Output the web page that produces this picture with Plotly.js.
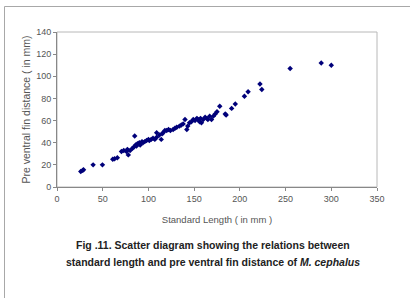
<!DOCTYPE html>
<html>
<head>
<meta charset="utf-8">
<script src="https://cdn.plot.ly/plotly-3.0.1.min.js"></script>
<style>
html,body{margin:0;padding:0;background:#fff;}
#chart{width:410px;height:298px;}
</style>
</head>
<body>
<div id="chart"></div>
<script>
// Standard length (mm)
var standardLength = [26,28,29,39.5,49.7,61,63,66,70.5,73,76,77,78,80,82.6,84,85,86,87,88,90,91,93,94,96,98,100,101,103,105,107,109,109,112,114,115,116,118,120,122,124,127,129,131,134,136,138,140,142,143,145,147,149,151,153,154,156,157,158,160,162,164,165,167,169,171,173,175,178,184,185,191,195,205,209,222,224,255,289,300];
// Pre ventral fin distance (mm)
var preVentral = [14,15,15.5,20,20,25,25.5,26.5,32,33,32,34,29,33,35,36,46,38,37,39,40,38,41,40,41,42,43,42,43,44,43,45,49,47,43,48,49,51,51,52,51,52,53,54,55,56,57,61,52,55,58,59,61,60,62,61,59,62,58,61,63,62,61,64,61,64,66,68,73,66,65,71,75,82,86,93,88,107,112,110];
var xTicks = [0,50,100,150,200,250,300,350];
var yTicks = [0,20,40,60,80,100,120,140];

var narrow = '"Liberation Sans Narrow", "Arial Narrow", "Liberation Sans", Arial, sans-serif';

var trace = {
  x: standardLength,
  y: preVentral,
  type: 'scatter',
  mode: 'markers',
  marker: {symbol: 'diamond', size: 4.2, color: '#00007a', line: {width: 0}},
  hoverinfo: 'none'
};

// frame geometry in paper units (plot area 57..377 x 32..187 px)
function px2x(p){return (p-57)/320;}
function px2y(p){return (187-p)/155;}

var layout = {
  width: 410, height: 298,
  margin: {l: 57, r: 33, t: 32, b: 111},
  paper_bgcolor: '#fff', plot_bgcolor: '#fff',
  showlegend: false,
  font: {family: narrow, size: 9, color: '#555'},
  xaxis: {
    range: [0, 350], tickvals: xTicks, ticktext: xTicks.map(String),
    showgrid: false, zeroline: false, showline: true, linecolor: '#888', linewidth: 1,
    ticks: 'outside', ticklen: 3, tickcolor: '#888',
    tickfont: {family: narrow, size: 9, color: '#555'},
    title: {text: 'Standard Length ( in mm )', font: {family: narrow, size: 9.5, color: '#555'}, standoff: 13}
  },
  yaxis: {
    range: [0, 140], tickvals: yTicks, ticktext: yTicks.map(String),
    showgrid: false, zeroline: false, showline: true, linecolor: '#888', linewidth: 1,
    ticks: 'outside', ticklen: 3, tickcolor: '#888',
    tickfont: {family: narrow, size: 9, color: '#555'},
    title: {text: 'Pre ventral fin distance ( in mm)', font: {family: narrow, size: 10.5, color: '#555'}, standoff: 3}
  },
  shapes: [
    {type: 'rect', xref: 'paper', yref: 'paper', x0: 0, x1: 1, y0: 0, y1: 1,
     line: {color: '#b8b8b8', width: 1}, layer: 'below'},
    {type: 'line', xref: 'paper', yref: 'paper', x0: px2x(4.5), x1: px2x(412), y0: px2y(6.5), y1: px2y(6.5),
     line: {color: '#a8a8a8', width: 1}},
    {type: 'line', xref: 'paper', yref: 'paper', x0: px2x(4.5), x1: px2x(4.5), y0: px2y(6.5), y1: px2y(300),
     line: {color: '#a8a8a8', width: 1}}
  ],
  annotations: [
    {xref: 'paper', yref: 'paper', x: px2x(213), y: px2y(245), xanchor: 'center', yanchor: 'middle',
     showarrow: false, text: '<b>Fig .11. Scatter diagram showing the relations between</b>',
     font: {family: narrow, size: 10.5, color: '#222'}},
    {xref: 'paper', yref: 'paper', x: px2x(213), y: px2y(262), xanchor: 'center', yanchor: 'middle',
     showarrow: false, text: '<b>standard length and pre ventral fin distance of <i>M. cephalus</i></b>',
     font: {family: narrow, size: 10.5, color: '#222'}}
  ]
};

Plotly.newPlot('chart', [trace], layout, {staticPlot: true, displayModeBar: false});
</script>
</body>
</html>
